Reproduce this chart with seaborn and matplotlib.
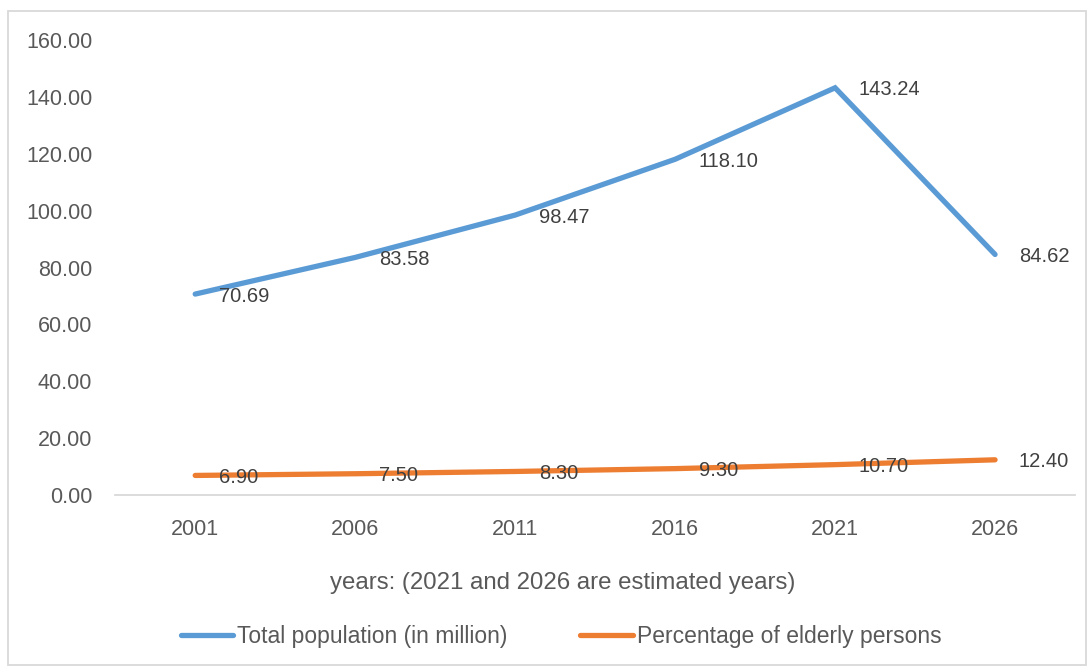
import matplotlib
matplotlib.use("Agg")
import matplotlib.pyplot as plt
import seaborn as sns
import pandas as pd
from matplotlib.patches import Rectangle

years = ["2001", "2006", "2011", "2016", "2021", "2026"]
total_population = [70.69, 83.58, 98.47, 118.10, 143.24, 84.62]
elderly_pct = [6.90, 7.50, 8.30, 9.30, 10.70, 12.40]
series_names = ["Total population (in million)", "Percentage of elderly persons"]
colors = ["#5B9BD5", "#ED7D31"]
yticks = [0, 20, 40, 60, 80, 100, 120, 140, 160]
xlabel = "years: (2021 and 2026 are estimated years)"

sns.set_theme(style="white")
plt.rcParams["font.family"] = ["Liberation Sans", "DejaVu Sans"]

df = pd.DataFrame({
    "year": years * 2,
    "value": total_population + elderly_pct,
    "series": [series_names[0]] * len(years) + [series_names[1]] * len(years),
})

fig = plt.figure(figsize=(10.87, 6.69), dpi=100)
ax = fig.add_axes([0.106, 0.260, 0.883, 0.680])

sns.lineplot(data=df, x="year", y="value", hue="series", palette=colors,
             linewidth=3.8, ax=ax, sort=False, legend=True,
             solid_capstyle="round", solid_joinstyle="miter")

for vals in (total_population, elderly_pct):
    for i, v in enumerate(vals):
        ax.annotate(f"{v:.2f}", xy=(i, v), xytext=(17, -1.5), textcoords="offset points",
                    ha="left", va="center", fontsize=14.5, color="#404040")

ax.set_xlim(-0.5, len(years) - 0.5)
ax.set_ylim(0, 160)
ax.set_yticks(yticks)
ax.set_yticklabels([f"{t:.2f}" for t in yticks])
ax.tick_params(axis="both", labelsize=15.5, colors="#595959", length=0)
ax.tick_params(axis="x", pad=17)
ax.tick_params(axis="y", pad=16.5)
for s in ["top", "right", "left"]:
    ax.spines[s].set_visible(False)
ax.spines["bottom"].set_color("#D9D9D9")
ax.spines["bottom"].set_linewidth(1.3)
ax.set_ylabel("")
ax.set_xlabel("")
fig.text(0.518, 0.129, xlabel, ha="center", va="center", fontsize=17.3, color="#595959")

handles, labels = ax.get_legend_handles_labels()
ax.legend(handles, labels, loc="center", bbox_to_anchor=(0.516, 0.049),
          bbox_transform=fig.transFigure, ncol=2, frameon=False, fontsize=16.5,
          handlelength=2.3, handletextpad=0.15, columnspacing=3.2,
          labelcolor="#595959")

fig.patches.append(Rectangle((8 / 1087, 4 / 669), 1078 / 1087, 654 / 669,
                             transform=fig.transFigure, fill=False,
                             edgecolor="#D9D9D9", linewidth=1.3))

fig.savefig("out.png", dpi=100)
